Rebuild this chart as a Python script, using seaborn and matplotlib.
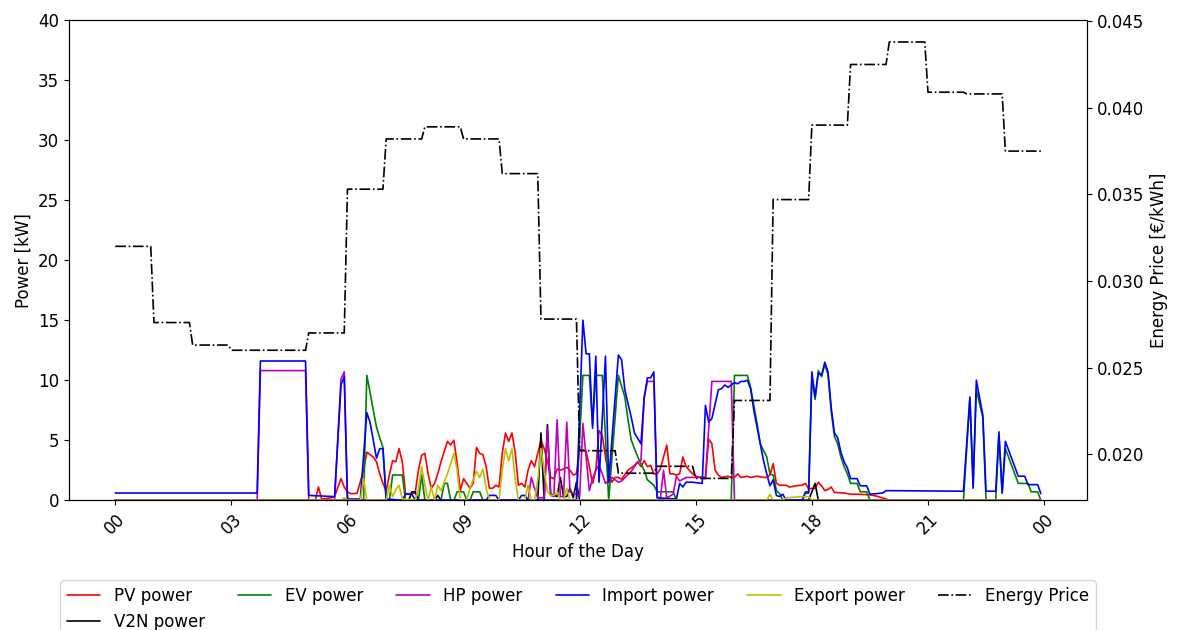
import numpy as np
import pandas as pd
import matplotlib
matplotlib.use("Agg")
import matplotlib.pyplot as plt
import seaborn as sns
from matplotlib.ticker import MultipleLocator, FormatStrFormatter

# ---- power series (timestamp "HH:MM", kW) ----
pv_time = ["00:00","05:10","05:15","05:20","05:35","05:40","05:50","05:55","06:00","06:05","06:10","06:15","06:25","06:30","06:35","06:40","06:45","06:50","06:55","07:00",
           "07:05","07:10","07:15","07:20","07:25","07:30","07:40","07:45","07:50","07:55","08:00","08:05","08:10","08:15","08:20","08:25","08:35","08:40","08:45","08:50",
           "08:55","09:00","09:05","09:10","09:15","09:20","09:25","09:30","09:35","09:40","09:45","09:50","09:55","10:00","10:05","10:10","10:15","10:20","10:25","10:30",
           "10:35","10:40","10:45","10:50","10:55","11:00","11:05","11:10","11:15","11:20","11:25","11:30","11:35","11:40","11:45","11:50","11:55","12:00","12:05","12:10",
           "12:15","12:20","12:25","12:30","12:35","12:40","12:45","12:50","12:55","13:00","13:05","13:15","13:25","13:30","13:35","13:40","13:45","13:50","13:55","14:00",
           "14:05","14:15","14:20","14:25","14:30","14:35","14:40","14:45","14:50","14:55","15:00","15:15","15:20","15:25","15:30","15:35","15:40","15:50","15:55","16:00",
           "16:05","16:10","16:20","16:25","16:35","16:45","16:50","16:55","17:00","17:05","17:10","17:20","17:25","17:35","17:45","17:50","17:55","18:05","18:10","18:15",
           "18:20","18:25","18:30","18:35","18:50","19:00","19:10","19:30","19:40","19:55","20:00","23:55"]
pv_kw = [0.0,0.0,1.1,0.1,0.2,0.3,1.8,1.1,0.7,0.55,0.55,0.6,2.5,4.0,3.8,3.6,3.2,2.2,1.4,0.8,
         2.1,3.3,3.2,4.3,3.2,0.55,0.55,0.6,2.5,3.75,3.9,2.2,1.0,1.4,2.2,3.2,4.9,4.6,5.0,3.1,
         0.8,1.8,1.4,1.0,1.4,4.4,3.9,3.8,2.8,1.0,1.0,1.25,1.1,3.9,5.6,4.9,5.6,4.0,1.25,1.4,
         1.1,2.5,3.3,2.8,3.9,5.0,4.3,3.3,1.9,1.8,2.6,2.5,2.6,2.75,2.5,2.1,2.2,4.2,4.2,4.1,
         2.8,1.4,2.5,5.8,5.4,3.6,2.2,1.5,1.9,1.9,1.75,2.5,2.9,3.2,2.8,3.3,2.8,2.9,2.2,2.2,
         2.6,4.6,2.2,2.2,2.1,2.2,3.6,2.8,2.5,2.2,2.0,1.8,5.1,4.7,2.5,2.1,1.9,2.0,1.9,1.9,
         2.2,1.9,2.0,1.9,2.0,1.9,1.9,2.1,3.05,1.4,1.25,1.25,1.1,1.2,1.25,1.4,0.95,1.0,1.5,1.2,
         0.8,0.9,1.1,0.65,0.6,0.5,0.5,0.45,0.35,0.1,0.0,0.0]

v2n_time = ["00:00","07:35","07:40","07:45","07:50","08:15","08:20","08:25","10:55","11:00","11:05","11:10","11:15","11:25","11:30","11:35","11:40","11:45","11:50","11:55",
            "12:00","17:55","18:05","18:10","23:55"]
v2n_kw = [0.0,0.0,0.7,0.7,0.0,0.0,0.4,0.0,0.0,5.6,0.0,6.3,0.5,0.3,1.9,0.3,0.3,1.0,0.2,1.5,
          0.0,0.0,1.4,0.0,0.0]

ev_time = ["00:00","06:25","06:30","06:35","06:40","06:45","06:50","06:55","07:00","07:05","07:10","07:25","07:30","07:50","07:55","08:00","08:25","08:30","08:35","08:40",
           "08:45","08:50","09:00","09:05","09:10","09:15","09:25","09:30","11:55","12:05","12:15","12:20","12:25","12:35","12:45","13:00","13:10","13:15","13:20","13:30",
           "13:40","13:45","13:55","14:00","14:25","14:30","15:55","16:00","16:20","16:25","16:35","16:40","16:50","16:55","17:00","17:05","17:10","17:15","17:45","17:50",
           "17:55","18:00","18:05","18:10","18:15","18:20","18:25","18:30","18:35","18:40","18:45","18:50","18:55","19:00","19:10","19:15","19:25","19:30","21:55","22:05",
           "22:10","22:15","22:25","22:30","22:45","22:50","22:55","23:00","23:20","23:35","23:40","23:50","23:55"]
ev_kw = [0.0,0.0,10.4,9.0,7.5,6.1,5.2,4.4,0.0,0.0,2.1,2.1,0.0,0.0,2.1,0.0,0.0,1.4,1.4,0.0,
         0.0,0.7,0.7,0.0,0.0,0.7,0.7,0.0,0.0,10.4,10.4,6.3,10.4,10.4,0.0,10.4,8.6,6.7,5.0,3.6,
         2.5,1.7,1.25,0.7,0.7,0.0,0.0,10.4,10.4,9.4,6.4,4.7,3.6,2.2,2.1,0.8,0.55,0.0,0.0,0.7,
         0.7,10.2,8.4,10.8,10.3,11.3,10.5,7.4,5.3,4.7,3.6,2.8,2.2,1.4,1.4,0.7,0.7,0.0,0.0,8.5,
         1.3,9.2,6.9,0.0,0.0,5.4,0.6,4.3,1.4,1.4,0.7,0.7,0.0]

hp_time = ["00:00","03:40","03:45","04:55","05:00","05:40","05:50","05:55","06:00","10:40","10:45","10:50","10:55","11:05","11:10","11:15","11:20","11:25","11:30","11:35",
           "11:40","11:45","11:55","12:00","12:05","12:10","12:15","12:20","12:25","12:30","12:35","12:40","12:50","13:00","13:05","13:20","13:30","13:35","13:40","13:45",
           "13:55","14:00","14:05","14:10","14:15","14:25","14:30","14:35","14:45","15:15","15:25","15:55","16:00","23:55"]
hp_kw = [0.0,0.0,10.8,10.8,0.0,0.0,10.1,10.7,0.0,0.0,1.9,1.0,0.2,0.2,6.0,0.4,0.3,6.7,0.3,0.3,
         6.5,0.7,0.5,0.3,6.4,3.6,0.8,1.8,2.5,2.9,2.2,1.4,1.9,1.5,1.6,2.4,3.2,3.3,8.6,9.9,
         9.9,0.3,0.1,2.5,0.2,0.5,2.0,1.6,1.9,1.9,9.9,9.9,0.0,0.0]

imp_time = ["00:00","03:40","03:45","04:55","05:00","05:40","05:50","05:55","06:00","06:20","06:30","06:35","06:40","06:45","06:50","06:55","07:00","07:25","07:30","07:40",
            "07:45","09:35","09:40","09:50","09:55","10:25","10:30","10:35","10:40","11:55","12:05","12:10","12:15","12:20","12:25","12:30","12:40","12:45","13:00","13:05",
            "13:10","13:20","13:25","13:35","13:40","13:45","13:50","13:55","14:00","14:30","14:35","14:40","14:45","14:55","15:10","15:15","15:20","15:25","15:35","15:40",
            "15:45","15:50","15:55","16:00","16:05","16:10","16:15","16:20","16:25","16:30","16:35","16:40","16:45","16:50","16:55","17:00","17:05","17:10","17:15","17:20",
            "17:45","17:50","17:55","18:00","18:05","18:10","18:15","18:20","18:25","18:30","18:35","18:40","18:45","18:50","18:55","19:00","19:10","19:15","19:25","19:30",
            "19:50","19:55","21:55","22:05","22:10","22:15","22:25","22:30","22:45","22:50","22:55","23:00","23:20","23:30","23:35","23:50","23:55"]
imp_kw = [0.6,0.6,11.6,11.6,0.4,0.3,9.6,10.3,0.1,0.1,7.3,6.5,5.0,3.5,4.3,4.3,0.1,0.0,0.5,0.5,
          0.0,0.0,0.4,0.4,0.0,0.0,0.4,0.4,0.0,0.0,15.0,12.2,12.2,6.0,12.0,1.5,12.0,1.5,12.1,11.7,
          9.2,6.9,5.6,4.7,8.5,10.2,10.2,10.7,0.2,0.1,1.4,1.1,1.5,1.5,1.4,7.9,6.5,6.8,9.2,9.3,
          9.6,9.4,9.6,9.8,9.7,9.9,9.9,10.0,9.3,7.5,6.1,4.7,3.3,2.2,1.2,1.7,0.4,0.3,0.5,0.0,
          0.0,0.6,0.6,10.7,8.6,10.6,10.4,11.5,10.7,7.7,5.6,5.2,4.0,3.2,2.7,1.8,1.8,1.2,1.2,0.5,
          0.6,0.8,0.75,8.6,1.0,10.0,7.1,0.75,0.75,5.7,0.6,4.9,2.0,2.0,1.3,1.3,0.55]

exp_time = ["00:00","05:50","05:55","06:00","06:20","06:25","06:30","07:00","07:05","07:10","07:15","07:20","07:25","07:45","07:50","07:55","08:00","08:05","08:10","08:15",
            "08:20","08:25","08:35","08:40","08:45","08:50","08:55","09:05","09:10","09:20","09:25","09:30","09:35","09:40","09:55","10:00","10:05","10:10","10:15","10:20",
            "10:25","10:35","10:40","10:45","10:50","10:55","11:00","11:05","11:10","11:15","11:20","11:25","11:30","11:35","11:40","11:45","16:50","16:55","17:00","17:15",
            "17:20","17:45","17:55","18:00","23:55"]
exp_kw = [0.0,0.0,0.2,0.0,0.0,1.8,0.0,0.0,1.25,0.3,0.9,1.25,0.1,0.0,0.9,2.8,1.25,0.0,1.1,0.0,
          1.25,0.8,2.2,3.05,3.9,2.5,0.0,0.0,1.0,2.4,1.9,2.6,1.0,0.0,0.0,2.5,4.3,3.3,4.3,1.7,
          0.0,0.0,1.25,0.0,0.0,1.7,4.3,2.5,0.7,0.4,0.4,0.7,0.0,0.0,1.0,0.0,0.0,0.5,0.0,0.0,
          0.2,0.3,0.3,0.0,0.0]

# ---- hourly energy price (€/kWh), valid from hh:00 to hh:55 ----
price_hour = list(range(24))
price_eur = [0.0320, 0.0276, 0.0263, 0.0260, 0.0260, 0.0270, 0.0353, 0.0382,
             0.0389, 0.0382, 0.0362, 0.0278, 0.0202, 0.0189, 0.0193, 0.0186,
             0.0231, 0.0347, 0.0390, 0.0425, 0.0438, 0.0409, 0.0408, 0.0375]

tick_hours = [0, 3, 6, 9, 12, 15, 18, 21, 24]
tick_labels = ["00", "03", "06", "09", "12", "15", "18", "21", "00"]

series = [
    ("PV power", pv_time, pv_kw, "r"),
    ("V2N power", v2n_time, v2n_kw, "k"),
    ("EV power", ev_time, ev_kw, "g"),
    ("HP power", hp_time, hp_kw, "m"),
    ("Import power", imp_time, imp_kw, "b"),
    ("Export power", exp_time, exp_kw, "y"),
]


def to_hours(stamps):
    return np.array([int(s[:2]) + int(s[3:]) / 60.0 for s in stamps])


frames = []
for name, t, v, _ in series:
    frames.append(pd.DataFrame({"hour": to_hours(t), "power": v, "series": name}))
power_df = pd.concat(frames, ignore_index=True)

ph = np.array(price_hour, dtype=float)
price_df = pd.DataFrame({
    "hour": np.column_stack([ph, ph + 55 / 60.0]).ravel(),
    "price": np.repeat(price_eur, 2),
})

sns.set_style("ticks")
plt.rcParams["font.family"] = ["DejaVu Sans"]
plt.rcParams["font.size"] = 12
for key in ("text.color", "axes.labelcolor", "xtick.color", "ytick.color", "axes.edgecolor"):
    plt.rcParams[key] = "black"

fig, ax = plt.subplots(figsize=(11.79, 6.30), dpi=100)
fig.subplots_adjust(left=0.0585, right=0.922, top=0.968, bottom=0.206)

order = [s[0] for s in series]
palette = {s[0]: s[3] for s in series}
sns.lineplot(data=power_df, x="hour", y="power", hue="series", hue_order=order,
             palette=palette, estimator=None, linewidth=1.2, legend=False, ax=ax)

ax2 = ax.twinx()
sns.lineplot(data=price_df, x="hour", y="price", color="k", linestyle="-.",
             estimator=None, linewidth=1.2, ax=ax2)

ax.set_xlim(-1.196, 25.11)
ax.set_ylim(0, 40)
ax.yaxis.set_major_locator(MultipleLocator(5))
ax.set_xticks(tick_hours)
ax.set_xticklabels(tick_labels, rotation=45)
ax.set_xlabel("Hour of the Day", fontsize=12)
ax.set_ylabel("Power [kW]", fontsize=12)

ax2.set_ylim(0.01734, 0.04506)
ax2.yaxis.set_major_locator(MultipleLocator(0.005))
ax2.yaxis.set_major_formatter(FormatStrFormatter("%.3f"))
ax2.set_ylabel("Energy Price [€/kWh]", fontsize=12)

for a in (ax, ax2):
    a.tick_params(labelsize=12, colors="black")
    for sp in a.spines.values():
        sp.set_visible(True)
        sp.set_color("black")

handles = list(ax.lines[:len(series)]) + [ax2.lines[0]]
labels = order + ["Energy Price"]
ax2.legend(handles, labels, loc="upper center", bbox_to_anchor=(0.5, -0.1667),
           borderaxespad=0.0, ncol=6, fontsize=12, frameon=True)

fig.savefig("out.png", dpi=100)
